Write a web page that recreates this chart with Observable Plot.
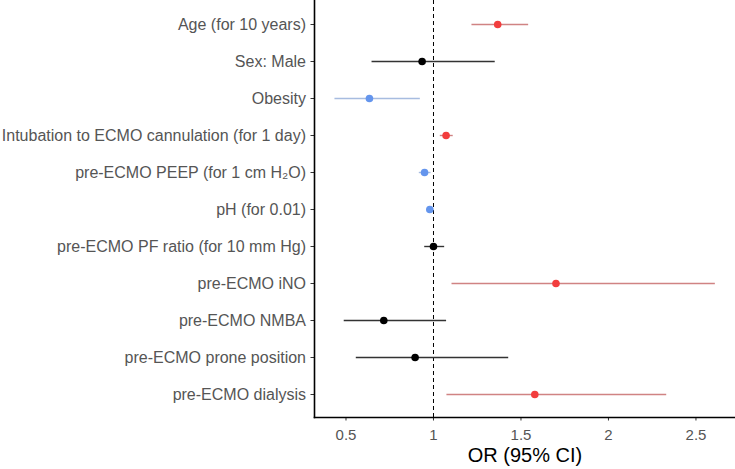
<!DOCTYPE html>
<html>
<head>
<meta charset="utf-8">
<script src="https://cdn.jsdelivr.net/npm/d3@7"></script>
<script src="https://cdn.jsdelivr.net/npm/@observablehq/plot@0.6"></script>
<style>
  html, body { margin: 0; padding: 0; background: #fff; }
</style>
</head>
<body>
<div id="chart"></div>
<script>
const labels = [
  "Age (for 10 years)",
  "Sex: Male",
  "Obesity",
  "Intubation to ECMO cannulation (for 1 day)",
  "pre-ECMO PEEP (for 1 cm H₂O)",
  "pH (for 0.01)",
  "pre-ECMO PF ratio (for 10 mm Hg)",
  "pre-ECMO iNO",
  "pre-ECMO NMBA",
  "pre-ECMO prone position",
  "pre-ECMO dialysis"
];
const oddsRatio = [1.367, 0.935, 0.634, 1.072, 0.949, 0.979, 1.0, 1.70, 0.716, 0.895, 1.579];
const lower     = [1.217, 0.646, 0.434, 1.036, 0.916, 0.970, 0.947, 1.103, 0.487, 0.556, 1.074];
const upper     = [1.541, 1.350, 0.922, 1.110, 0.983, 0.988, 1.061, 2.608, 1.072, 1.427, 2.330];
const effect    = ["up", "ns", "down", "up", "down", "down", "ns", "up", "ns", "ns", "up"];
const xTicks = [0.5, 1, 1.5, 2, 2.5];

const pointColor = {up: "#F23D3D", down: "#6495ED", ns: "#000000"};
const lineColor  = {up: "#D08383", down: "#A7BCE0", ns: "#333333"};

const rows = labels.map((label, i) => ({
  label, or: oddsRatio[i], lo: lower[i], hi: upper[i], effect: effect[i]
}));

const chart = Plot.plot({
  width: 735,
  height: 469,
  marginLeft: 314,
  marginRight: 0,
  marginTop: 0,
  marginBottom: 52,
  style: {fontFamily: "'Liberation Sans', Arial, sans-serif", fontSize: "16px", color: "#555555", background: "#fff"},
  x: {domain: [0.32, 2.726]},
  y: {domain: labels, type: "point", padding: 0.6},
  marks: [
    Plot.ruleX([1], {stroke: "#000", strokeWidth: 1, strokeDasharray: "4,3"}),
    Plot.link(rows, {
      x1: "lo", x2: "hi", y1: "label", y2: "label",
      stroke: d => lineColor[d.effect], strokeWidth: 1.4
    }),
    Plot.dot(rows, {
      x: "or", y: "label", r: 3.8,
      fill: d => pointColor[d.effect], stroke: "none"
    }),
    Plot.axisY({tickSize: 3.5, tickPadding: 5, fontSize: 16, label: null, stroke: "#333"}),
    Plot.axisX({ticks: xTicks, tickSize: 3.5, tickPadding: 8, fontSize: 15, label: null, stroke: "#333", tickFormat: d => String(d)}),
    Plot.frame({anchor: "left", stroke: "#000", strokeWidth: 1.6}),
    Plot.frame({anchor: "bottom", stroke: "#000", strokeWidth: 1.6}),
    Plot.text(["OR (95% CI)"], {frameAnchor: "bottom", dy: 44, fontSize: 20, fill: "#000"})
  ]
});
document.getElementById("chart").appendChild(chart);
</script>
</body>
</html>
